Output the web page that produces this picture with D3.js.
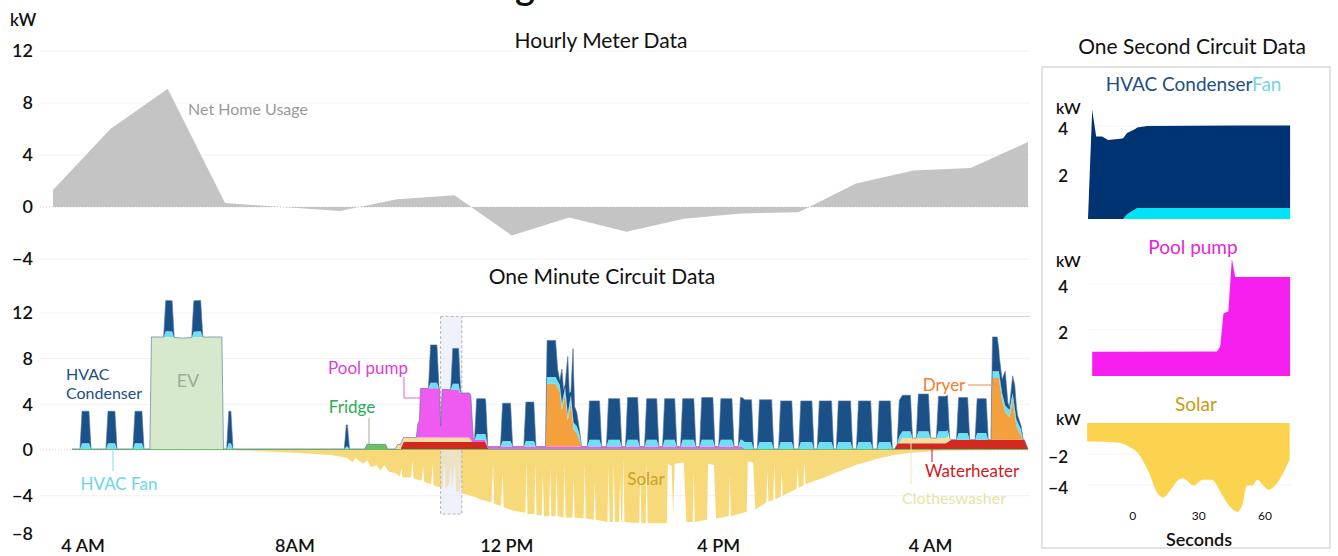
<!DOCTYPE html>
<html>
<head>
<meta charset="utf-8">
<script src="https://cdn.jsdelivr.net/npm/d3@7"></script>
<style>
  body { margin: 0; background: #fff; }
  svg { display: block; font-family: Lato, "Open Sans", sans-serif; }
</style>
</head>
<body>
<svg id="chart" width="1338" height="556"></svg>
<script>
// ---- hourly meter data (kW, one value per hour) ----
const hourlyNet = [1.3, 6.0, 9.1, 0.3, 0.0, -0.3, 0.6, 0.9, -2.2, -0.8, -1.9, -0.9, -0.5, -0.4, 1.8, 2.8, 3.0, 5.0];
const hourlyTicks = [12, 8, 4, 0, -4];

// ---- one minute circuit data: [hour of day, kW] ----
const minuteTicks = [4, 8, 12, 16, 20];
const minuteTickLabels = ["4 AM", "8AM", "12 PM", "4 PM", "4 AM"];
const minuteKwTicks = [12, 8, 4, 0, -4, -8];

const fridge = [[3.80, 0.1], [9.33, 0.1], [9.37, 0.5], [9.72, 0.5], [9.76, 0.1], [21.85, 0.1]];
const waterheater = [[3.80, 0], [10.00, 0], [10.06, 0.6], [11.60, 0.6], [11.66, 0], [19.33, 0], [19.39, 0.5],
  [20.30, 0.5], [20.40, 0.8], [21.78, 0.8], [21.85, 0]];
const clotheswasher = [[3.80, 0], [9.90, 0], [9.95, 0.4], [11.30, 0.4], [11.36, 0], [19.42, 0], [19.48, 0.45],
  [20.35, 0.45], [20.40, 0], [21.85, 0]];
const poolPump = [[3.80, 0], [10.30, 0], [10.33, 1.2], [10.36, 1.5], [10.38, 4.3], [10.74, 4.3], [10.76, 1.0],
  [10.79, 4.2], [11.10, 4.2], [11.12, 3.9], [11.33, 3.9], [11.38, 0.2], [16.45, 0.2], [16.50, 0], [21.85, 0]];
const dryer = [[3.80, 0], [12.74, 0], [12.77, 5.5], [12.93, 5.5], [13.01, 4.8], [13.05, 3.2], [13.11, 4.6],
  [13.16, 2.3], [13.22, 3.9], [13.27, 1.5], [13.33, 1.2], [13.39, 0.4], [13.42, 0], [21.15, 0], [21.18, 5.4],
  [21.30, 5.4], [21.36, 3.5], [21.42, 2.4], [21.50, 2.0], [21.56, 3.5], [21.63, 1.2], [21.72, 0.3], [21.76, 0], [21.85, 0]];
const ev = [[3.80, 0], [5.27, 0], [5.30, 9.8], [5.60, 9.8], [5.90, 9.7], [6.20, 9.8], [6.63, 9.8], [6.66, 0], [21.85, 0]];

// HVAC on-cycles: [start hour, end hour, condenser kW, fan kW]
const hvacCycles = [
  [3.99, 4.12, 2.8, 0.5], [4.48, 4.61, 2.8, 0.5], [4.99, 5.12, 2.8, 0.5], [5.57, 5.69, 2.7, 0.5],
  [6.10, 6.23, 2.7, 0.5], [6.76, 6.80, 2.8, 0.5], [8.98, 9.00, 1.9, 0.2], [10.57, 10.69, 3.3, 0.5],
  [10.99, 11.10, 3.1, 0.5], [11.44, 11.61, 3.1, 0.5], [11.93, 12.08, 3.3, 0.5], [12.37, 12.52, 3.4, 0.5],
  [13.57, 13.76, 3.4, 0.6], [13.93, 14.14, 3.6, 0.6], [14.29, 14.48, 3.7, 0.6], [14.65, 14.84, 3.6, 0.6],
  [14.99, 15.18, 3.6, 0.6], [15.33, 15.54, 3.6, 0.6], [15.69, 15.90, 3.7, 0.6], [16.05, 16.26, 3.6, 0.6],
  [16.42, 16.63, 3.7, 0.6], [16.78, 17.01, 3.7, 0.6], [17.18, 17.39, 3.6, 0.6], [17.56, 17.77, 3.6, 0.6],
  [17.91, 18.14, 3.6, 0.6], [18.27, 18.50, 3.6, 0.6], [18.65, 18.88, 3.6, 0.6], [19.04, 19.25, 3.6, 0.6],
  [19.42, 19.63, 3.15, 0.6], [19.78, 19.97, 3.25, 0.6], [20.16, 20.33, 3.05, 0.6], [20.54, 20.71, 3.1, 0.6],
  [20.89, 21.06, 3.0, 0.6]
];
// condenser / fan while the dryer runs (ragged)
const condenserBursts = [[12.74, 0], [12.77, 3.2], [12.93, 3.2], [12.97, 1.0], [13.01, 0.4], [13.05, 3.0],
  [13.08, 0.5], [13.11, 0.2], [13.16, 5.0], [13.19, 1.0], [13.22, 0.3], [13.26, 6.0], [13.29, 1.5], [13.33, 1.2],
  [13.39, 0.2], [13.42, 0], [21.15, 0], [21.18, 3.0], [21.27, 3.0], [21.31, 1.5], [21.36, 1.2], [21.42, 3.0],
  [21.47, 0.5], [21.50, 0.3], [21.56, 1.5], [21.60, 2.0], [21.65, 0.6], [21.72, 0.3], [21.76, 0]];
const fanBursts = [[12.74, 0], [12.77, 0.6], [13.39, 0.6], [13.42, 0], [21.15, 0], [21.18, 0.6], [21.72, 0.6], [21.76, 0]];

const solar = [[3.80, 0], [6.75, 0], [7.35, -0.1], [8.10, -0.25], [8.72, -0.45], [9.0, -0.7], [9.1, -1.1], [9.15, -0.7],
  [9.3, -1.2], [9.37, -0.9], [9.45, -1.5], [9.55, -1.3], [9.62, -1.8], [9.7, -1.3], [9.78, -1.9], [9.9, -2.0],
  [9.99, -2.3], [10.02, -1.6], [10.04, -2.4], [10.2, -2.4], [10.23, -0.9], [10.25, -2.5], [10.4, -2.7], [10.43, -1.4],
  [10.45, -2.8], [10.58, -3.0], [10.61, -1.2], [10.63, -3.1], [10.8, -3.3], [10.83, -1.0], [10.85, -3.4], [10.92, -3.0],
  [10.95, -1.4], [10.97, -3.5], [11.03, -1.1], [11.05, -3.6], [11.12, -3.7], [11.15, -2.4], [11.17, -3.8], [11.4, -4.1],
  [11.5, -4.3], [11.72, -4.6], [11.75, -1.2], [11.77, -4.7], [11.9, -4.9], [11.93, -2.0], [11.95, -5.0], [12.12, -5.3],
  [12.36, -5.5], [12.38, -1.0], [12.40, -5.6], [12.53, -5.6], [12.55, -1.1], [12.57, -5.7], [12.67, -5.7], [12.69, -2.0],
  [12.71, -5.8], [12.81, -5.8], [12.83, -1.5], [12.85, -5.8], [12.93, -5.8], [12.95, -1.8], [12.97, -5.8], [13.08, -5.9],
  [13.10, -1.2], [13.12, -5.9], [13.25, -5.9], [13.27, -2.4], [13.29, -5.9], [13.46, -6.0], [13.48, -1.2], [13.50, -6.0],
  [13.65, -6.1], [13.67, -2.8], [13.69, -6.1], [13.91, -6.3], [13.93, -1.5], [13.95, -6.3], [14.01, -6.3], [14.03, -1.2],
  [14.05, -6.3], [14.13, -6.3], [14.15, -2.4], [14.17, -6.3], [14.19, -6.3], [14.21, -0.6], [14.23, -6.3], [14.51, -6.4],
  [14.53, -1.8], [14.55, -6.4], [14.63, -6.4], [14.65, -1.0], [14.67, -6.4], [15.03, -6.4], [15.05, -1.2], [15.12, -1.4],
  [15.15, -5.8], [15.18, -1.2], [15.35, -1.1], [15.40, -6.3], [15.52, -6.3], [15.54, -1.8], [15.56, -6.3], [15.79, -6.1],
  [15.81, -1.2], [15.92, -1.3], [15.96, -6.0], [16.20, -5.8], [16.22, -2.2], [16.24, -5.8], [16.54, -5.4], [16.56, -1.0],
  [16.66, -1.1], [16.70, -5.2], [16.91, -4.6], [16.93, -1.8], [16.95, -4.5], [17.04, -4.4], [17.06, -1.2], [17.08, -4.3],
  [17.18, -4.1], [17.20, -1.8], [17.22, -4.0], [17.48, -3.4], [17.50, -1.5], [17.52, -3.3], [17.61, -3.1], [17.63, -1.0],
  [17.65, -3.0], [18.0, -2.4], [18.33, -1.8], [18.6, -1.3], [18.97, -0.8], [19.3, -0.45], [19.59, -0.25], [20.23, -0.05],
  [21.3, 0], [21.85, 0]];

// highlighted one-second window (hours / kW)
const zoomWindow = { from: 10.76, to: 11.16, top: 11.7, bottom: -5.6 };

// ---- one second circuit data: [seconds, kW] ----
const secTicks = [0, 30, 60];
const secCondenser = [[-20, 0], [-18.1, 4.7], [-16.3, 3.55], [-13.6, 3.55], [-10.9, 3.4], [-5.4, 3.45], [-2.3, 3.5],
  [1.4, 3.45], [6.8, 3.53], [48.9, 3.55], [71.6, 3.55]];
const secFan = [[-20, 0], [-4.1, 0], [-2.3, 0.2], [2.3, 0.47], [71.6, 0.47]];
const secPoolPump = [[-18.1, 1.05], [38.4, 1.06], [39.9, 1.27], [41.4, 2.73], [43.6, 2.8], [45.2, 5.1], [46.7, 4.3], [71.6, 4.3]];
const secSolar = [[-20.4, -1.19], [-6.8, -1.25], [-0.9, -1.56], [2.3, -1.88], [7.3, -3.1], [11.8, -4.6], [14, -4.8],
  [17, -4.4], [21, -3.66], [23, -3.56], [28, -4.03], [32, -3.66], [36, -3.66], [41, -4.7], [44.5, -5.44], [47.7, -5.72],
  [50, -5.25], [52, -4.03], [54.5, -4.03], [56.8, -3.66], [59.5, -4.03], [61.8, -4.31], [65.9, -3.84], [71.4, -2.34]];

// ---------------------------------------------------------------
const svg = d3.select('#chart');
const INK = '#111';

// piecewise-linear lookup through a d3 scale
const piecewise = pts => d3.scaleLinear().domain(pts.map(p => p[0])).range(pts.map(p => p[1])).clamp(true);

function stackSeries(series, keys) {
  const times = Array.from(new Set(keys.flatMap(k => series[k].map(p => p[0])))).sort(d3.ascending);
  const fns = {};
  keys.forEach(k => { fns[k] = piecewise(series[k]); });
  const rows = times.map(t => {
    const r = { t };
    keys.forEach(k => { r[k] = fns[k](t); });
    return r;
  });
  return d3.stack().keys(keys)(rows);
}

const RAMP = 0.04;
const cyclePts = idx => hvacCycles.flatMap(c => [[c[0] - RAMP, 0], [c[0], c[idx]], [c[1], c[idx]], [c[1] + RAMP, 0]]);
const condenser = [[3.80, 0], ...cyclePts(2), ...condenserBursts, [21.85, 0]].sort((a, b) => a[0] - b[0]);
const fan = [[3.80, 0], ...cyclePts(3), ...fanBursts, [21.85, 0]].sort((a, b) => a[0] - b[0]);

const styleTicks = (sel, size) => sel.selectAll('text')
  .style('font-size', size + 'px').style('font-family', 'Lato, sans-serif')
  .style('font-weight', 600).attr('fill', INK);

// ---- title (clipped at top) ----
svg.append('text').attr('x', 525).attr('y', -1).attr('text-anchor', 'middle')
  .style('font-size', '38px').style('font-weight', 600).attr('fill', INK).text('g');

// ================= Hourly meter chart =================
const xH = d3.scaleLinear().domain([0, hourlyNet.length - 1]).range([53, 1028]);
const yH = d3.scaleLinear().domain([-4, 12]).range([259, 51]);

const gH = svg.append('g');
gH.selectAll('.grid').data(hourlyTicks.filter(d => d !== 0)).enter().append('line')
  .attr('x1', 40).attr('x2', 1030).attr('y1', d => yH(d)).attr('y2', d => yH(d))
  .attr('stroke', '#f1f1f1');
gH.append('line').attr('x1', 40).attr('x2', 1030).attr('y1', yH(0)).attr('y2', yH(0))
  .attr('stroke', '#d0d0d0').attr('stroke-dasharray', '1,2');

gH.append('path').datum(hourlyNet)
  .attr('d', d3.area().x((d, i) => xH(i)).y0(yH(0)).y1(d => yH(d)))
  .attr('fill', '#c4c4c4');

gH.append('g').attr('transform', 'translate(36,0)')
  .call(d3.axisLeft(yH).tickValues(hourlyTicks).tickSize(0).tickPadding(3))
  .call(g => g.select('.domain').remove())
  .call(g => styleTicks(g, 18));

svg.append('text').attr('x', 10).attr('y', 26).style('font-size', '17px').style('font-weight', 600)
  .attr('fill', INK).text('kW');
svg.append('text').attr('x', 601).attr('y', 48).attr('text-anchor', 'middle')
  .style('font-size', '21px').attr('fill', INK).text('Hourly Meter Data');
svg.append('text').attr('x', 248).attr('y', 115).attr('text-anchor', 'middle')
  .style('font-size', '16px').attr('fill', '#9a9a9a').text('Net Home Usage');

// ================= One minute circuit chart =================
const xM = d3.scaleLinear().domain([3.8, 21.85]).range([72, 1028]);
const yM = d3.scaleLinear().domain([-8, 12]).range([541.4, 313]);

const gM = svg.append('g');
gM.selectAll('.grid').data(minuteKwTicks.filter(d => d !== 0 && d !== -8)).enter().append('line')
  .attr('x1', 40).attr('x2', 1030).attr('y1', d => yM(d)).attr('y2', d => yM(d))
  .attr('stroke', '#f1f1f1');
gM.append('line').attr('x1', 40).attr('x2', 1030).attr('y1', yM(0)).attr('y2', yM(0))
  .attr('stroke', '#d0d0d0').attr('stroke-dasharray', '1,2');

gM.append('path').datum(solar)
  .attr('d', d3.area().x(d => xM(d[0])).y0(yM(0)).y1(d => yM(d[1])))
  .attr('fill', '#f8d97a');

// one-second window highlight (over solar, under the circuits)
gM.append('line')
  .attr('x1', xM(zoomWindow.to)).attr('x2', 1030)
  .attr('y1', yM(zoomWindow.top)).attr('y2', yM(zoomWindow.top))
  .attr('stroke', '#cfcfcf');
gM.append('rect')
  .attr('x', xM(zoomWindow.from)).attr('width', xM(zoomWindow.to) - xM(zoomWindow.from))
  .attr('y', yM(zoomWindow.top)).attr('height', yM(zoomWindow.bottom) - yM(zoomWindow.top))
  .attr('fill', '#e4eaf6').attr('fill-opacity', 0.6)
  .attr('stroke', '#b4b4b4').attr('stroke-dasharray', '3,2');

const keys = ['fridge', 'waterheater', 'clotheswasher', 'poolPump', 'dryer', 'ev', 'fan', 'condenser'];
const colors = {
  fridge: '#6cbf63', waterheater: '#d3281f', clotheswasher: '#f4dd9e', poolPump: '#ef5bf0',
  dryer: '#f4a13d', ev: '#d7e9cc', fan: '#6fe0f4', condenser: '#1a5189'
};
const layers = stackSeries({ fridge, waterheater, clotheswasher, poolPump, dryer, ev, fan, condenser }, keys);

const areaM = d3.area().x(d => xM(d.data.t)).y0(d => yM(d[0])).y1(d => yM(d[1]));
gM.selectAll('.layer').data(layers).enter().append('path')
  .attr('d', areaM).attr('fill', d => colors[d.key]);

// outline along the stack top
gM.append('path').datum(layers[layers.length - 1])
  .attr('d', d3.line().x(d => xM(d.data.t)).y(d => yM(d[1])))
  .attr('fill', 'none').attr('stroke', '#5b7498').attr('stroke-width', 0.8).attr('stroke-opacity', 0.8);

gM.append('g').attr('transform', 'translate(36,0)')
  .call(d3.axisLeft(yM).tickValues(minuteKwTicks).tickSize(0).tickPadding(3))
  .call(g => g.select('.domain').remove())
  .call(g => styleTicks(g, 18))
  .call(g => g.selectAll('.tick').filter(d => d === -8).select('text').attr('dy', '-0.1em'));

gM.append('g').attr('transform', 'translate(0,536)')
  .call(d3.axisBottom(xM).tickValues(minuteTicks).tickSize(0).tickPadding(3)
    .tickFormat((d, i) => minuteTickLabels[i]))
  .call(g => g.select('.domain').remove())
  .call(g => styleTicks(g, 18));

svg.append('text').attr('x', 602).attr('y', 284).attr('text-anchor', 'middle')
  .style('font-size', '21px').attr('fill', INK).text('One Minute Circuit Data');

// annotations
const note = (x, y, txt, color, size, anchor) => svg.append('text')
  .attr('x', x).attr('y', y).attr('text-anchor', anchor || 'middle')
  .style('font-size', (size || 17) + 'px').attr('fill', color).text(txt);
const leader = (pts, color) => svg.append('path')
  .attr('d', d3.line()(pts)).attr('fill', 'none').attr('stroke', color).attr('stroke-width', 1);

note(66, 380, 'HVAC', '#1d4f86', 16, 'start');
note(66, 399, 'Condenser', '#1d4f86', 16, 'start');
note(188, 387, 'EV', '#9aab9a', 18);
leader([[113, 451], [113, 471]], '#7fd9ea');
note(119, 490, 'HVAC Fan', '#6dd6ea', 17);
leader([[369, 418], [369, 444]], '#98b098');
note(352, 413, 'Fridge', '#27ae4f', 17);
leader([[404, 377], [404, 398], [421, 398]], '#e55ce0');
note(368, 374, 'Pool pump', '#e23ad8', 17);
note(646, 485, 'Solar', '#c9a227', 17);
leader([[968, 385], [997, 385]], '#f48a45');
note(944, 391, 'Dryer', '#f47c2c', 17);
leader([[932, 446], [932, 462]], '#cf1a1a');
note(972, 477, 'Waterheater', '#cf1a1a', 17);
leader([[911, 441], [911, 484]], '#efe8b5');
note(954, 504, 'Clotheswasher', '#e9e2a6', 16);

// ================= One second circuit panel =================
svg.append('text').attr('x', 1192).attr('y', 54).attr('text-anchor', 'middle')
  .style('font-size', '21px').attr('fill', INK).text('One Second Circuit Data');
svg.append('rect').attr('x', 1042).attr('y', 67).attr('width', 288).attr('height', 481)
  .attr('fill', 'none').attr('stroke', '#d9d9d9').attr('stroke-width', 1.5);

const xS = d3.scaleLinear().domain([-20, 72]).range([1088, 1291]);

function panelAxis(y, ticks, top) {
  svg.selectAll(null).data(ticks).enter().append('line')
    .attr('x1', 1088).attr('x2', 1291).attr('y1', d => y(d)).attr('y2', d => y(d))
    .attr('stroke', '#f3f3f3');
  svg.append('g').attr('transform', 'translate(1071,0)')
    .call(d3.axisLeft(y).tickValues(ticks).tickSize(0).tickPadding(3).tickFormat(d3.format('d')))
    .call(g => g.select('.domain').remove())
    .call(g => styleTicks(g, 17))
    .call(g => g.selectAll('text').attr('dy', '0.5em'));
  svg.append('text').attr('x', 1056).attr('y', top).style('font-size', '16px').style('font-weight', 600)
    .attr('fill', INK).text('kW');
}

// HVAC condenser + fan
const yA = d3.scaleLinear().domain([0, 4]).range([219, 126]);
panelAxis(yA, [4, 2], 114);
const secLayers = stackSeries({ fan: secFan, condenser: secCondenser }, ['fan', 'condenser']);
svg.selectAll(null).data(secLayers).enter().append('path')
  .attr('d', d3.area().x(d => xS(d.data.t)).y0(d => yA(d[0])).y1(d => yA(d[1])))
  .attr('fill', d => d.key === 'fan' ? '#00e3f6' : '#003372');
note(1179, 91, 'HVAC Condenser', '#1d4f86', 19);
note(1252, 91, 'Fan', '#74d6e8', 19, 'start');

// pool pump
const yB = d3.scaleLinear().domain([0, 4]).range([376, 284]);
panelAxis(yB, [4, 2], 267);
svg.append('path').datum(secPoolPump)
  .attr('d', d3.area().x(d => xS(d[0])).y0(yB(0)).y1(d => yB(d[1])))
  .attr('fill', '#f71ef0');
note(1193, 254, 'Pool pump', '#e226d6', 19);

// solar
const yC = d3.scaleLinear().domain([-4, 0]).range([485, 423]);
panelAxis(yC, [-2, -4], 425);
svg.append('path').datum(secSolar)
  .attr('d', d3.area().curve(d3.curveMonotoneX).x(d => xS(d[0])).y0(yC(0)).y1(d => yC(d[1])))
  .attr('fill', '#fcd34f');
note(1196, 411, 'Solar', '#c99a12', 19);

svg.append('g').attr('transform', 'translate(0,508)')
  .call(d3.axisBottom(xS).tickValues(secTicks).tickSize(0).tickPadding(3))
  .call(g => g.select('.domain').remove())
  .call(g => g.selectAll('text').style('font-size', '12px').style('font-family', 'Lato, sans-serif').attr('fill', INK));
note(1199, 546, 'Seconds', INK, 18).style('font-weight', 600);
</script>
</body>
</html>
